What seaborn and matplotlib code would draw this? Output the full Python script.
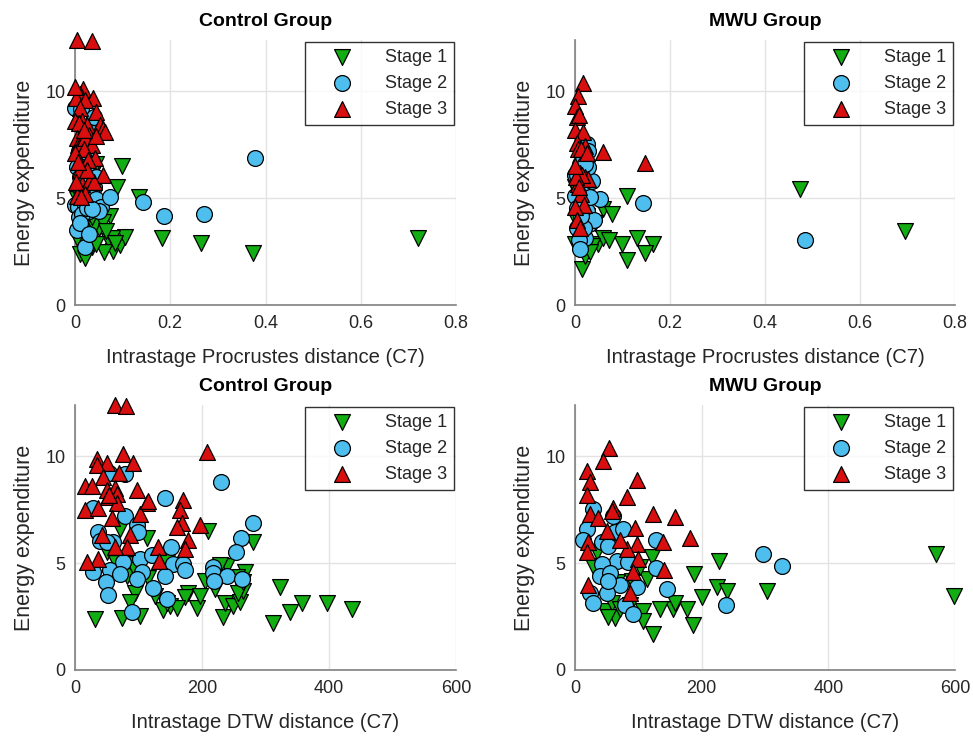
import numpy as np
import pandas as pd
import matplotlib
matplotlib.use("Agg")
import matplotlib.pyplot as plt
import seaborn as sns

# ---------------- data ----------------
stages = ["Stage 1", "Stage 2", "Stage 3"]
groups = ["Control Group", "MWU Group"]

# Control group
ctrl_s1_energy = [2.4, 2.45, 2.55, 2.8, 3.0, 3.15, 3.6, 3.4, 2.9, 6.5, 6.2, 6.6, 6.0, 4.4, 4.3,
                  3.6, 3.45, 3.2, 4.95, 5.05, 2.5, 3.15, 3.0, 3.2, 3.7, 4.6, 4.35, 3.8, 4.15, 4.85,
                  3.9, 3.15, 2.7, 2.2, 3.15, 2.85, 3.45, 4.9, 3.6, 2.9, 4.1, 5.5, 5.0, 4.7]
ctrl_s1_dtw = [31, 74, 102, 139, 150, 145, 178, 173, 192, 209, 113, 71, 280, 82, 115,
               94, 126, 87, 90, 145, 233, 236, 249, 260, 265, 268, 255, 221, 205, 239,
               323, 357, 339, 312, 397, 436, 197, 228, 257, 160, 265, 50, 65, 95]
ctrl_s1_proc = [0.01, 0.374, 0.08, 0.095, 0.072, 0.183, 0.02, 0.03, 0.265, 0.099, 0.038, 0.045, 0.02, 0.015, 0.025,
                0.05, 0.01, 0.105, 0.005, 0.134, 0.06, 0.078, 0.015, 0.025, 0.04, 0.012, 0.03, 0.008, 0.074, 0.02,
                0.059, 0.72, 0.035, 0.02, 0.005, 0.045, 0.065, 0.03, 0.012, 0.085, 0.035, 0.088, 0.01, 0.059]

ctrl_s2_energy = [9.2, 9.15, 8.8, 8.05, 7.6, 7.2, 6.8, 6.45, 6.9, 6.2, 5.5, 6.45, 6.05, 6.0, 5.2,
                  5.4, 5.75, 4.95, 4.95, 4.7, 4.4, 4.6, 4.7, 4.1, 3.5, 4.6, 4.25, 3.85, 2.7, 4.8,
                  4.55, 4.4, 4.15, 4.25, 3.3, 5.05, 4.5, 6.0]
ctrl_s2_dtw = [54, 79, 230, 142, 28, 79, 97, 99, 280, 261, 254, 36, 39, 60, 102,
               121, 151, 154, 170, 173, 142, 28, 55, 49, 52, 105, 97, 123, 90, 218,
               218, 239, 219, 263, 145, 76, 71, 50]
ctrl_s2_proc = [0.0, 0.012, 0.04, 0.038, 0.02, 0.008, 0.03, 0.015, 0.378, 0.025, 0.04, 0.005, 0.018, 0.01, 0.035,
                0.028, 0.02, 0.045, 0.012, 0.0, 0.03, 0.006, 0.02, 0.008, 0.004, 0.055, 0.015, 0.01, 0.022, 0.143,
                0.025, 0.05, 0.187, 0.271, 0.03, 0.074, 0.035, 0.045]

ctrl_s3_energy = [12.4, 12.35, 10.1, 9.85, 9.7, 9.7, 9.6, 9.05, 9.2, 8.6, 8.6, 8.4, 8.4, 8.5, 8.25,
                  8.1, 7.8, 7.95, 7.5, 7.6, 7.8, 7.5, 7.3, 7.1, 6.9, 6.8, 10.2, 7.9, 6.1, 5.65,
                  5.75, 5.1, 6.3, 5.75, 5.75, 6.3, 5.2, 5.05, 8.2, 6.7]
ctrl_s3_dtw = [63, 80, 75, 35, 50, 91, 34, 44, 70, 16, 27, 97, 50, 63, 66,
               52, 113, 170, 16, 36, 66, 165, 102, 58, 168, 197, 208, 115, 178, 173,
               131, 132, 87, 82, 63, 42, 36, 19, 54, 160]
ctrl_s3_proc = [0.004, 0.035, 0.017, 0.01, 0.038, 0.003, 0.02, 0.044, 0.01, 0.0, 0.015, 0.053, 0.025, 0.008, 0.059,
                0.063, 0.004, 0.03, 0.006, 0.012, 0.022, 0.035, 0.018, 0.0, 0.042, 0.028, 0.0, 0.045, 0.059, 0.015,
                0.03, 0.005, 0.01, 0.04, 0.002, 0.025, 0.02, 0.012, 0.018, 0.006]

# MWU group
mwu_s1_energy = [5.45, 3.45, 3.7, 5.1, 4.5, 3.9, 3.7, 3.4, 2.1, 2.85, 2.85, 2.85, 3.15, 1.7, 2.75,
                 2.3, 2.45, 2.75, 3.15, 3.85, 4.1, 4.15, 4.25, 5.3, 4.8, 5.5, 4.85, 2.85, 2.5, 3.05]
mwu_s1_dtw = [570, 598, 303, 227, 188, 224, 240, 200, 186, 177, 155, 134, 158, 123, 107,
              107, 63, 47, 58, 50, 66, 90, 114, 121, 102, 35, 28, 71, 52, 87]
mwu_s1_proc = [0.474, 0.695, 0.017, 0.109, 0.059, 0.005, 0.03, 0.01, 0.109, 0.049, 0.099, 0.164, 0.059, 0.015, 0.008,
               0.02, 0.147, 0.035, 0.13, 0.042, 0.015, 0.025, 0.078, 0.005, 0.012, 0.0, 0.02, 0.0, 0.032, 0.072]

mwu_s2_energy = [5.45, 4.85, 3.05, 3.8, 6.1, 4.75, 6.6, 7.55, 6.0, 5.8, 6.45, 6.6, 7.2, 5.1, 4.95,
                 4.4, 3.6, 3.15, 3.05, 2.6, 3.9, 5.05, 4.55, 4.0, 3.6, 6.1, 4.15]
mwu_s2_dtw = [297, 327, 238, 145, 128, 128, 19, 28, 43, 52, 63, 76, 60, 66, 43,
              39, 24, 28, 79, 92, 98, 84, 55, 71, 50, 13, 52]
mwu_s2_proc = [0.02, 0.01, 0.484, 0.03, 0.0, 0.143, 0.01, 0.025, 0.015, 0.035, 0.027, 0.02, 0.028, 0.0, 0.053,
               0.025, 0.004, 0.021, 0.008, 0.011, 0.015, 0.032, 0.005, 0.04, 0.018, 0.005, 0.012]

mwu_s3_energy = [10.4, 9.8, 9.3, 8.8, 8.9, 8.2, 8.1, 7.6, 7.3, 7.45, 7.3, 7.15, 6.2, 6.0, 6.65,
                 5.9, 5.65, 6.1, 6.0, 6.5, 5.2, 4.7, 4.6, 4.0, 3.6, 7.1, 5.5]
mwu_s3_dtw = [54, 44, 19, 24, 98, 19, 82, 60, 24, 58, 123, 158, 182, 139, 95,
              98, 82, 71, 21, 50, 99, 141, 92, 21, 87, 36, 19]
mwu_s3_proc = [0.017, 0.006, 0.0, 0.004, 0.008, 0.0, 0.017, 0.004, 0.006, 0.02, 0.012, 0.059, 0.01, 0.02, 0.147,
               0.027, 0.006, 0.015, 0.003, 0.0, 0.012, 0.018, 0.0, 0.005, 0.01, 0.025, 0.008]

x_ticks_proc = [0, 0.2, 0.4, 0.6, 0.8]
x_ticks_dtw = [0, 200, 400, 600]
y_ticks = [0, 5, 10]

# ---------------- build table ----------------
series = {
    ("Control Group", "Stage 1"): (ctrl_s1_energy, ctrl_s1_proc, ctrl_s1_dtw),
    ("Control Group", "Stage 2"): (ctrl_s2_energy, ctrl_s2_proc, ctrl_s2_dtw),
    ("Control Group", "Stage 3"): (ctrl_s3_energy, ctrl_s3_proc, ctrl_s3_dtw),
    ("MWU Group", "Stage 1"): (mwu_s1_energy, mwu_s1_proc, mwu_s1_dtw),
    ("MWU Group", "Stage 2"): (mwu_s2_energy, mwu_s2_proc, mwu_s2_dtw),
    ("MWU Group", "Stage 3"): (mwu_s3_energy, mwu_s3_proc, mwu_s3_dtw),
}
rows = []
for (g, st), (en, pr, dt) in series.items():
    for e, p, d in zip(en, pr, dt):
        rows.append({"Group": g, "Stage": st, "Energy": e, "Procrustes": p, "DTW": d})
df = pd.DataFrame(rows)

# ---------------- style ----------------
sns.set_theme(style="white")
plt.rcParams["font.family"] = ["Liberation Sans", "DejaVu Sans"]

palette = {"Stage 1": "#12AD12", "Stage 2": "#4DBEEE", "Stage 3": "#D90E0E"}
markers = {"Stage 1": "v", "Stage 2": "o", "Stage 3": "^"}

fig = plt.figure(figsize=(9.73, 7.38), dpi=100)
W, H = 973, 738
def ax_at(x0, y0, x1, y1):
    return fig.add_axes([x0 / W, 1 - y1 / H, (x1 - x0) / W, (y1 - y0) / H])

layout = [
    ("Control Group", "Procrustes", "Intrastage Procrustes distance (C7)", x_ticks_proc, (75, 40, 456, 305)),
    ("MWU Group", "Procrustes", "Intrastage Procrustes distance (C7)", x_ticks_proc, (575, 40, 955, 305)),
    ("Control Group", "DTW", "Intrastage DTW distance (C7)", x_ticks_dtw, (75, 405, 456, 670)),
    ("MWU Group", "DTW", "Intrastage DTW distance (C7)", x_ticks_dtw, (575, 405, 955, 670)),
]

for g, xcol, xlabel, xt, box in layout:
    ax = ax_at(*box)
    sub = df[df["Group"] == g]
    for st in stages:
        s = sub[sub["Stage"] == st]
        sns.scatterplot(data=s, x=xcol, y="Energy", color=palette[st], marker=markers[st],
                        s=130, edgecolor="black", linewidth=0.9, ax=ax, label=st, zorder=3,
                        clip_on=False)
    ax.set_xlim(xt[0], xt[-1])
    ax.set_ylim(0, 12.4)
    ax.set_xticks(xt)
    ax.set_xticklabels([f"{v:g}" for v in xt])
    ax.set_yticks(y_ticks)
    ax.grid(True, color="#E3E3E3", linewidth=1.0, zorder=0)
    ax.set_axisbelow(True)
    for side in ["top", "right"]:
        ax.spines[side].set_visible(False)
    for side in ["left", "bottom"]:
        ax.spines[side].set_color("#808080")
        ax.spines[side].set_linewidth(1.2)
    ax.tick_params(axis="both", direction="in", length=4, width=0.8, color="#808080",
                   labelsize=13, labelcolor="#262626", pad=7)
    ax.set_xlabel(xlabel, fontsize=14.6, color="#262626", labelpad=12)
    ax.set_ylabel("Energy expenditure", fontsize=15.5, color="#262626", labelpad=7)
    ax.set_title(g, fontsize=14, fontweight="bold", color="black", pad=10)
    leg = ax.legend(loc="upper right", fontsize=13, frameon=True, fancybox=False,
                    edgecolor="black", borderpad=0.4, labelspacing=0.5,
                    handlelength=3.3, handletextpad=0.7, borderaxespad=0.1, markerscale=1.0)
    leg.get_frame().set_linewidth(1.0)
    leg.set_zorder(5)

fig.savefig("out.png", dpi=100)
